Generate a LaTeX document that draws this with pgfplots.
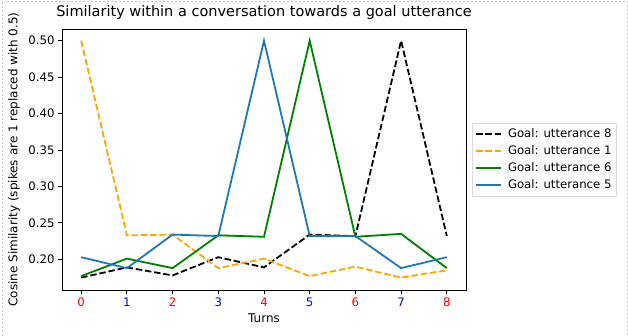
\documentclass[border=0pt]{standalone}
\usepackage{fontspec}
\setmainfont{DejaVu Sans}
\usepackage{pgfplots}
\pgfplotsset{compat=1.18}

\definecolor{mplblue}{HTML}{1F77B4}
\definecolor{mplgreen}{HTML}{008000}
\definecolor{mplorange}{HTML}{FFA500}
\definecolor{legframe}{HTML}{DCDCDC}

\begin{document}
\begin{tikzpicture}
\useasboundingbox (0,0) rectangle (628pt,336pt);
\draw[gray!45, line width=0.6pt, dash pattern=on 2pt off 2pt]
    (2pt,0) -- (2pt,335pt) -- (627pt,335pt) -- (627pt,0);
\begin{axis}[
    at={(62pt,46pt)}, anchor=south west,
    width=404pt, height=261pt, scale only axis,
    xmin=-0.42, xmax=8.42,
    ymin=0.158, ymax=0.516,
    xtick={0,...,8},
    xticklabels={\textcolor{red}{0},\textcolor{blue}{1},\textcolor{red}{2},\textcolor{blue}{3},\textcolor{red}{4},\textcolor{blue}{5},\textcolor{red}{6},\textcolor{blue}{7},\textcolor{red}{8}},
    ytick={0.20,0.25,0.30,0.35,0.40,0.45,0.50},
    yticklabel style={/pgf/number format/.cd, fixed, fixed zerofill, precision=2, assume math mode=true},
    tick label style={font=\fontsize{11.7}{14}\selectfont},
    tick align=outside, xtick pos=bottom, ytick pos=left,
    major tick length=4pt,
    every tick/.style={black, line width=0.9pt},
    axis line style={line width=0.9pt},
    title={Similarity within a conversation towards a goal utterance},
    title style={font=\fontsize{14.5}{17}\selectfont, at={(0.5,1)}, anchor=base, inner sep=0pt, yshift=6pt},
    xlabel={Turns},
    xlabel style={font=\fontsize{12}{14}\selectfont, at={(axis description cs:0.5,0)}, anchor=north, inner sep=0pt, yshift=-24pt},
    ylabel={Cosine Similarity (spikes are 1 replaced with 0.5)},
    ylabel style={font=\fontsize{12}{14}\selectfont, at={(axis description cs:0,0.5)}, anchor=south, inner sep=0pt, yshift=42pt},
    legend style={at={(1,0.5)}, anchor=west, xshift=6pt, draw=legframe,
        font=\fontsize{11.7}{14}\selectfont, inner xsep=3pt, inner ysep=4pt,
        row sep=2.5pt, column sep=4pt},
    legend cell align=left,
    legend image code/.code={\draw[mark repeat=2,mark phase=2,#1] (0pt,0pt) -- (25pt,0pt);},
]
\addplot[black, line width=1.8pt, dash pattern=on 6.5pt off 2.8pt] coordinates {
    (0,0.175) (1,0.189) (2,0.178) (3,0.203) (4,0.189)
    (5,0.234) (6,0.232) (7,0.500) (8,0.232)
};
\addlegendentry{Goal: utterance 8}
\addplot[mplorange, line width=1.8pt, dash pattern=on 6.5pt off 2.8pt] coordinates {
    (0,0.500) (1,0.233) (2,0.234) (3,0.188) (4,0.201)
    (5,0.177) (6,0.190) (7,0.175) (8,0.185)
};
\addlegendentry{Goal: utterance 1}
\addplot[mplgreen, line width=1.8pt] coordinates {
    (0,0.177) (1,0.201) (2,0.188) (3,0.233) (4,0.231)
    (5,0.500) (6,0.231) (7,0.235) (8,0.188)
};
\addlegendentry{Goal: utterance 6}
\addplot[mplblue, line width=1.8pt] coordinates {
    (0,0.203) (1,0.188) (2,0.234) (3,0.232) (4,0.500)
    (5,0.232) (6,0.232) (7,0.188) (8,0.203)
};
\addlegendentry{Goal: utterance 5}
\end{axis}
\end{tikzpicture}
\end{document}
